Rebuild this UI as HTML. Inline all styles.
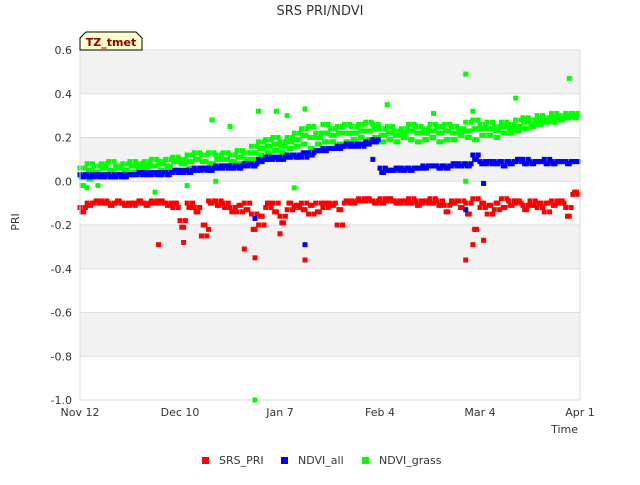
<!DOCTYPE html>
<html><head><meta charset="utf-8"><style>
body{margin:0;background:#fff;font-family:"Liberation Sans",sans-serif}
svg text{font-family:"DejaVu Sans","Liberation Sans",sans-serif}
</style></head><body>
<svg id="c" width="640" height="480">
<text x="320" y="15" text-anchor="middle" font-size="13" fill="#333">SRS PRI/NDVI</text>
<g id="bands"></g><g id="grid"></g><g id="marks"></g><g id="axes"></g>
<text transform="translate(19,222) rotate(-90)" text-anchor="middle" font-size="11" fill="#333">PRI</text>
<text x="578" y="433" text-anchor="end" font-size="11" fill="#333">Time</text>
<g>
<path d="M80,50 L80,38 L86,32 L136,32 L142,38 L142,50 Z" fill="#ffffcc" stroke="#000" stroke-width="1"/>
<text x="111" y="46" text-anchor="middle" font-size="11" font-weight="bold" fill="#8b0000">TZ_tmet</text></g>
<g id="legend"></g>
</svg>
<script>
const yTicks=[0.6,0.4,0.2,0.0,-0.2,-0.4,-0.6,-0.8,-1.0];
const xTickLabels=["Nov 12","Dec 10","Jan 7","Feb 4","Mar 4","Apr 1"];
const xTickDays=[0,28,56,84,112,140];
const redA=[-0.12,-0.10,-0.10,-0.09,-0.10,-0.10,-0.10,-0.11,-0.10,-0.10,-0.09,-0.10,-0.10,-0.12,-0.18,-0.10,-0.12,-0.25,-0.09,-0.09,-0.10,-0.12,-0.14,-0.10,-0.15,-0.20,-0.12,-0.10,-0.16,-0.13,-0.12,-0.10,-0.15,-0.10,-0.12,-0.10,-0.20,-0.10,-0.09,-0.08,-0.09,-0.09,-0.08,-0.09,-0.09,-0.10,-0.08,-0.09,-0.10,-0.08,-0.09,-0.11,-0.09,-0.09,-0.10,-0.08,-0.12,-0.15,-0.13,-0.08,-0.09,-0.10,-0.11,-0.09,-0.12,-0.14,-0.09,-0.10,-0.12,-0.06];
const redB=[-0.14,-0.11,-0.09,-0.10,-0.11,-0.09,-0.11,-0.10,-0.09,-0.11,-0.10,-0.09,-0.11,-0.10,-0.21,-0.12,-0.14,-0.20,-0.10,-0.11,-0.12,-0.14,-0.11,-0.13,-0.22,-0.16,-0.10,-0.14,-0.19,-0.10,-0.11,-0.13,-0.11,-0.14,-0.10,-0.11,-0.13,-0.09,-0.10,-0.09,-0.08,-0.10,-0.10,-0.08,-0.10,-0.09,-0.10,-0.11,-0.09,-0.10,-0.11,-0.14,-0.10,-0.12,-0.15,-0.22,-0.10,-0.11,-0.10,-0.12,-0.11,-0.09,-0.13,-0.11,-0.10,-0.10,-0.11,-0.09,-0.16,-0.05];
const blueA=[0.03,0.03,0.02,0.03,0.03,0.02,0.03,0.03,0.03,0.04,0.03,0.04,0.04,0.04,0.05,0.05,0.06,0.05,0.06,0.07,0.06,0.07,0.07,0.08,0.08,0.10,0.11,0.10,0.11,0.12,0.12,0.11,0.13,0.14,0.15,0.15,0.16,0.16,0.17,0.16,0.18,0.19,0.06,0.05,0.05,0.06,0.06,0.06,0.07,0.07,0.07,0.07,0.07,0.08,0.08,0.12,0.09,0.08,0.09,0.09,0.09,0.09,0.10,0.09,0.09,0.10,0.09,0.09,0.09,0.09];
const blueB=[0.02,0.02,0.03,0.02,0.02,0.03,0.02,0.03,0.04,0.03,0.04,0.03,0.03,0.05,0.04,0.04,0.05,0.06,0.05,0.06,0.07,0.06,0.06,0.07,0.07,0.09,0.10,0.11,0.10,0.11,0.11,0.13,0.12,0.14,0.14,0.15,0.15,0.17,0.16,0.17,0.17,0.18,0.04,0.05,0.06,0.05,0.05,0.06,0.06,0.07,0.06,0.06,0.08,0.07,0.07,0.10,0.08,0.09,0.08,0.07,0.08,0.10,0.08,0.08,0.09,0.08,0.08,0.09,0.08,0.09];
const greenA=[0.06,0.08,0.07,0.08,0.09,0.07,0.08,0.09,0.08,0.09,0.10,0.09,0.10,0.11,0.10,0.12,0.13,0.12,0.13,0.12,0.13,0.12,0.14,0.13,0.16,0.18,0.19,0.20,0.18,0.20,0.22,0.24,0.25,0.22,0.26,0.24,0.25,0.26,0.25,0.26,0.27,0.26,0.24,0.25,0.23,0.24,0.26,0.25,0.24,0.26,0.25,0.26,0.25,0.24,0.27,0.28,0.26,0.27,0.25,0.27,0.26,0.28,0.29,0.28,0.30,0.29,0.31,0.30,0.31,0.31];
const greenB=[-0.02,0.01,0.02,0.03,0.02,0.03,0.03,0.04,0.04,0.05,0.04,0.05,0.06,0.05,0.05,0.06,0.05,0.06,0.05,0.06,0.07,0.06,0.08,0.07,0.10,0.12,0.13,0.14,0.13,0.15,0.16,0.17,0.15,0.17,0.18,0.18,0.17,0.18,0.19,0.20,0.19,0.20,0.18,0.19,0.18,0.20,0.19,0.18,0.19,0.20,0.18,0.19,0.19,0.21,0.20,0.19,0.21,0.21,0.20,0.22,0.22,0.23,0.24,0.25,0.26,0.27,0.27,0.28,0.29,0.29];
const greenC=[0.02,0.05,0.04,0.06,0.05,0.06,0.05,0.07,0.06,0.07,0.07,0.08,0.07,0.09,0.08,0.09,0.10,0.09,0.08,0.10,0.10,0.09,0.11,0.10,0.13,0.15,0.16,0.17,0.16,0.18,0.19,0.21,0.20,0.20,0.22,0.21,0.22,0.22,0.22,0.23,0.23,0.24,0.21,0.22,0.21,0.22,0.23,0.22,0.22,0.23,0.22,0.23,0.22,0.23,0.23,0.24,0.24,0.24,0.23,0.25,0.24,0.25,0.27,0.26,0.28,0.28,0.29,0.29,0.30,0.30];
const greenOutDays=[37,42,50,55,58,63,86,99,108,110,122,137,49,2,5,21,30,38,60,108];
const greenOutVals=[0.28,0.25,0.32,0.32,0.30,0.33,0.35,0.31,0.49,0.32,0.38,0.47,-1.0,-0.03,-0.02,-0.05,-0.02,0.00,-0.03,0.00];
const redOutDays=[22,29,46,49,63,108,113,110,56,36];
const redOutVals=[-0.29,-0.28,-0.31,-0.35,-0.36,-0.36,-0.27,-0.29,-0.24,-0.22];
const blueOutDays=[63,49,108,113,82];
const blueOutVals=[-0.29,-0.17,-0.13,-0.01,0.10];
const NS="http://www.w3.org/2000/svg";
const X0=80,X1=580,Y0=50,Y1=400;
function xs(d){return X0+d*(X1-X0)/140;}
function ys(v){return Y0+(0.6-v)*(Y1-Y0)/1.6;}
function el(t,a,p){const e=document.createElementNS(NS,t);for(const k in a)e.setAttribute(k,a[k]);document.getElementById(p).appendChild(e);return e;}
for(let i=0;i<yTicks.length-1;i++){
 const r=el('rect',{x:X0,y:ys(yTicks[i]),width:X1-X0,height:ys(yTicks[i+1])-ys(yTicks[i]),fill:i%2==0?'#f2f2f2':'#ffffff'},'bands');
 
 
}
yTicks.forEach(v=>{
 const l=el('line',{x1:X0,x2:X1,y1:ys(v),y2:ys(v),stroke:'#dddddd','stroke-width':1},'grid');
 
 
 const t=el('text',{x:72,y:ys(v)+4,'text-anchor':'end','font-size':11,fill:'#333'},'axes');
 t.textContent=v.toFixed(1);
 
 
});
el('line',{x1:X1,x2:X1,y1:Y0,y2:Y1,stroke:'#dddddd'},'axes');
el('line',{x1:X0,x2:X0,y1:Y0,y2:Y1,stroke:'#dddddd'},'axes');
xTickDays.forEach((d,i)=>{
 const t=el('text',{x:xs(d),y:416,'text-anchor':'middle','font-size':11,fill:'#333'},'axes');
 t.textContent=xTickLabels[i];
 
 
});
function pt(d,v,c,n){
 const r=el('rect',{x:xs(d)-2.5,y:ys(v)-2.5,width:5,height:5,fill:c},'marks');
 
 
}
function series(A,B,c,n){
 for(let i=0;i<A.length;i++){
  pt(2*i,A[i],c,n);pt(2*i+1,B[i],c,n);
  pt(2*i+0.5,B[i],c,n);pt(2*i+1.5,A[i],c,n);
 }
}
series(redA,redB,'#ff0000','srs-pri-point');
redOutDays.forEach((d,i)=>pt(d,redOutVals[i],'#ff0000','srs-pri-point'));
series(greenA,greenB,'#00ff00','ndvi-grass-point');
greenC.forEach((v,i)=>{pt(2*i+0.3,v,'#00ff00','ndvi-grass-point');pt(2*i+1.3,v,'#00ff00','ndvi-grass-point');});
greenOutDays.forEach((d,i)=>pt(d,greenOutVals[i],'#00ff00','ndvi-grass-point'));
series(blueA,blueB,'#0000ff','ndvi-all-point');
blueOutDays.forEach((d,i)=>pt(d,blueOutVals[i],'#0000ff','ndvi-all-point'));
const legNames=["SRS_PRI","NDVI_all","NDVI_grass"];
const legColors=['#ff0000','#0000ff','#00ff00'];
const legX=[202,281,362];
legNames.forEach((n,i)=>{
 const r=el('rect',{x:legX[i],y:457,width:7,height:7,fill:legColors[i]},'legend');
 
 
 const t=el('text',{x:legX[i]+17,y:464,'font-size':11,fill:'#333'},'legend');
 t.textContent=n;
 
 
});
</script>
</body></html>
